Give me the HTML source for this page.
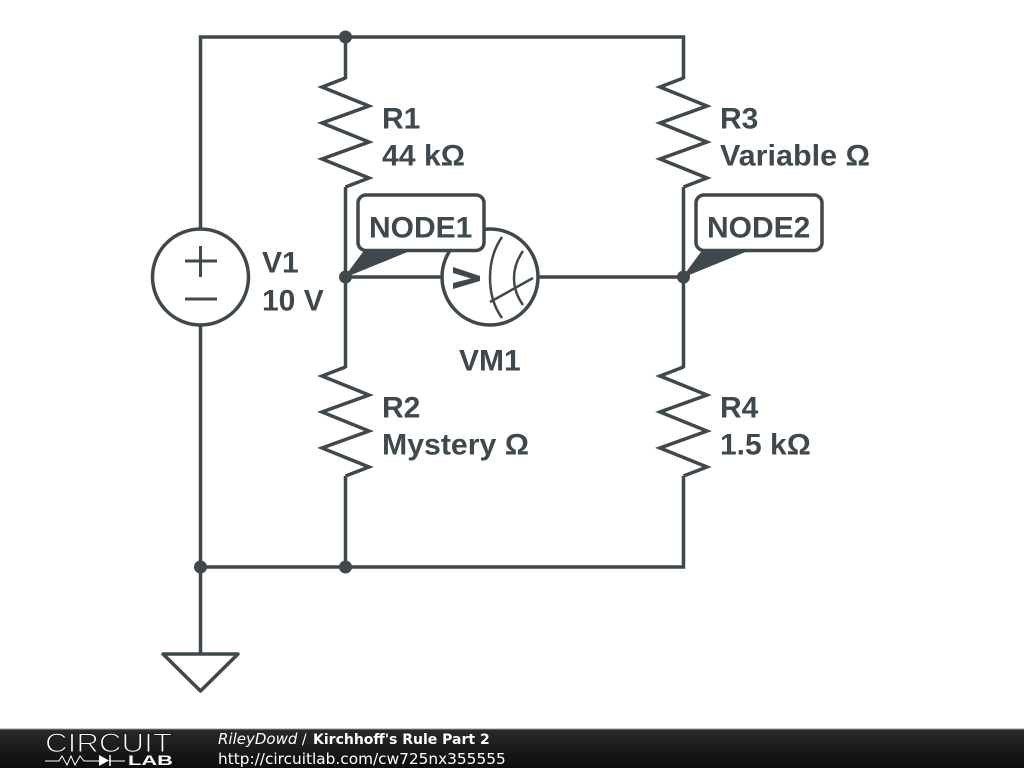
<!DOCTYPE html>
<html><head><meta charset="utf-8"><style>
html,body{margin:0;padding:0;background:#fff;width:1024px;height:768px;overflow:hidden}
svg{display:block}
.l{font-family:"Liberation Sans",sans-serif;font-weight:bold;font-size:30px;fill:#3f484d}
.f{font-family:"DejaVu Sans",sans-serif;font-size:14px;fill:#fff}
</style></head><body>
<svg width="1024" height="768" viewBox="0 0 1024 768" xmlns="http://www.w3.org/2000/svg">
<defs><linearGradient id="g" x1="0" y1="0" x2="0" y2="1"><stop offset="0" stop-color="#2a2a2a"/><stop offset="1" stop-color="#0c0c0c"/></linearGradient></defs>
<rect width="1024" height="768" fill="#fff"/>
<g fill="none" stroke="#3f484d" stroke-width="3.500" stroke-linejoin="miter">
<path d="M200.500 229V37H683.500V79M345.500 37V79M345.500 187V368M683.500 187V368M345.500 476V567M683.500 476V567H200.500V654M200.500 325V567M345.500 277H441M539 277H683.500"/>
<path d="M345.500 78L322 87L369 106L322 123L369 142L322 159L369 178L345.500 187"/>
<path d="M683.500 78L660 87L707 106L660 123L707 142L660 159L707 178L683.500 187"/>
<path d="M345.500 367L322 376L369 395L322 412L369 431L322 448L369 467L345.500 476"/>
<path d="M683.500 367L660 376L707 395L660 412L707 431L660 448L707 467L683.500 476"/>
<circle cx="200.500" cy="277" r="48"/>
<path d="M185 261H217M200.500 246V277M185 299H217" stroke-width="3"/>
<circle cx="490" cy="277" r="48"/>
<path d="M163 654H238L200.500 691Z" stroke-linejoin="round"/>
</g>
<g fill="#3f484d">
<circle cx="345.500" cy="37" r="6.500"/><circle cx="200.500" cy="567" r="6.500"/><circle cx="345.500" cy="567" r="6.500"/>
<circle cx="345.500" cy="277" r="6.500"/><circle cx="683.500" cy="277" r="6.500"/>
<path d="M453 267L480 276V281L453 289V283L471 278.500L453 273Z"/>
</g>
<path d="M502 237C486 260 486 296 502 318M523 251C511 268 511 288 523 305M490 302L533 278" stroke-width="2.500" fill="none" stroke="#3f484d"/>
<g fill="#fff" stroke="#3f484d" stroke-width="3.500">
<rect x="358" y="195" width="126" height="55.500" rx="8"/>
<rect x="696" y="195" width="126" height="55.500" rx="8"/>
</g>
<path d="M365 250L345 277L411 250Z" fill="#3f484d" stroke="#3f484d" stroke-width="1"/><path d="M703 250L683 277L749 250Z" fill="#3f484d" stroke="#3f484d" stroke-width="1"/>
<text class="l" x="382" y="128.500">R1</text><text class="l" x="382" y="165.500" textLength="83" lengthAdjust="spacingAndGlyphs">44 kΩ</text>
<text class="l" x="720" y="128.500">R3</text><text class="l" x="720" y="165.500" textLength="150" lengthAdjust="spacingAndGlyphs">Variable Ω</text>
<text class="l" x="382" y="417.500">R2</text><text class="l" x="382" y="454.500" textLength="147" lengthAdjust="spacingAndGlyphs">Mystery Ω</text>
<text class="l" x="720" y="417.500">R4</text><text class="l" x="720" y="454.500">1.5 kΩ</text>
<text class="l" x="262" y="272.500">V1</text><text class="l" x="262" y="310.500">10 V</text>
<text class="l" x="459" y="370.500">VM1</text>
<text class="l" x="369" y="237.500">NODE1</text><text class="l" x="707" y="237.500">NODE2</text>
<rect y="729" width="1024" height="39" fill="url(#g)"/>
<rect y="728.500" width="1024" height="1" fill="#999"/>
<text x="45" y="752" font-family="Liberation Sans,sans-serif" font-size="26.500" fill="#fff" stroke="#1c1c1c" stroke-width="1.100" textLength="127" lengthAdjust="spacingAndGlyphs">CIRCUIT</text>
<text x="128" y="765" font-family="Liberation Sans,sans-serif" font-weight="bold" font-size="14" fill="#fff" textLength="45" lengthAdjust="spacingAndGlyphs">LAB</text>
<path d="M45 761H59L62 756L67 765L71 756L75 765L80 756L84 761H99M109 761H125" stroke="#fff" stroke-width="1" fill="none"/>
<path d="M99 755L109 760.500L99 766Z" fill="#fff"/><path d="M110 755V766" stroke="#fff" stroke-width="1.500"/>
<text class="f" x="218" y="744"><tspan font-style="italic" font-size="15">RileyDowd</tspan> / <tspan dx="2" font-weight="bold">Kirchhoff's Rule Part 2</tspan></text>
<text class="f" x="218" y="764" style="font-size:15.330px">http://circuitlab.com/cw725nx355555</text>
</svg>
</body></html>
